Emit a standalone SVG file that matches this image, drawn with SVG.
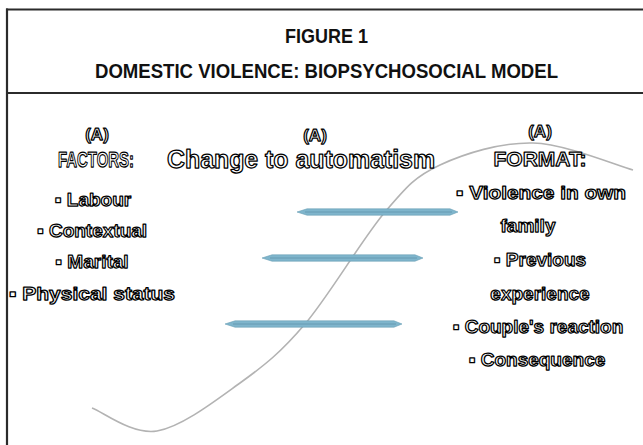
<svg xmlns="http://www.w3.org/2000/svg" width="643" height="445" viewBox="0 0 643 445">
<style>
.frame{stroke:#2b2b2b;stroke-width:2.2;fill:none}
.head{font-family:"Liberation Sans Narrow","Liberation Sans",Arial,sans-serif;font-weight:bold;fill:#111;text-anchor:middle}
.ol{font-family:"Liberation Sans",Arial,sans-serif;font-weight:bold;fill:#fff;stroke:#000;stroke-width:1.25;stroke-linejoin:round;text-anchor:middle}
.bar{fill:#7fb5cc;stroke:#6a9fb6;stroke-width:0.6}
.barline{stroke:#4f8199;stroke-width:0.8;opacity:0.6}
.curve{fill:none;stroke:#b3b3b3;stroke-width:1.6}
</style>
<rect width="643" height="445" fill="#fff"/>
<g id="frame">
<line class="frame" x1="6" y1="9.5" x2="643" y2="9.5"/>
<line class="frame" x1="7" y1="8.5" x2="7" y2="445"/>
<line class="frame" x1="6" y1="93" x2="643" y2="93"/>
</g>
<g id="title">
<text class="head" x="326.5" y="43" font-size="20" textLength="83" lengthAdjust="spacingAndGlyphs">FIGURE 1</text>
<text class="head" x="326.5" y="78" font-size="21" textLength="463" lengthAdjust="spacingAndGlyphs">DOMESTIC VIOLENCE: BIOPSYCHOSOCIAL MODEL</text>
</g>
<g id="connectors">
<path class="curve" d="M92,408 C102.8,411.8 132.3,435.2 157,431 C181.7,426.8 215.3,400.8 240,383 C264.7,365.2 280.8,352.5 305,324 C329.2,295.5 362.5,238.5 385,212 C407.5,185.5 415.3,176.5 440,165 C464.7,153.5 500.8,142.2 533,143 C565.2,143.8 616.3,165.5 633,170"/>
</g>
<g id="bars">
<path class="bar" d="M297,212 L307,208.8 L450,208.8 L458,212 L450,215.2 L307,215.2 Z"/>
<line class="barline" x1="305" y1="212" x2="452" y2="212"/>
<path class="bar" d="M262,258 L272,254.8 L415,254.8 L423,258 L415,261.2 L272,261.2 Z"/>
<line class="barline" x1="270" y1="258" x2="417" y2="258"/>
<path class="bar" d="M225,324 L235,320.8 L394,320.8 L402,324 L394,327.2 L235,327.2 Z"/>
<line class="barline" x1="233" y1="324" x2="396" y2="324"/>
</g>
<g id="factors">
<text class="ol" x="97" y="140" font-size="17">(A)</text>
<text class="ol" x="96" y="167" font-size="22" textLength="76" lengthAdjust="spacingAndGlyphs">FACTORS:</text>
<text class="ol" x="93" y="206" font-size="19">▪ Labour</text>
<text class="ol" x="92" y="237" font-size="19">▪ Contextual</text>
<text class="ol" x="92" y="268" font-size="19">▪ Marital</text>
<text class="ol" x="92" y="300" font-size="19" textLength="166" lengthAdjust="spacingAndGlyphs">▪ Physical status</text>
</g>
<g id="change">
<text class="ol" x="315" y="141" font-size="17">(A)</text>
<text class="ol" x="301" y="168" font-size="25" textLength="268" lengthAdjust="spacingAndGlyphs">Change to automatism</text>
</g>
<g id="format">
<text class="ol" x="540" y="137" font-size="17">(A)</text>
<text class="ol" x="540" y="166" font-size="21">FORMAT:</text>
<text class="ol" x="541" y="199" font-size="19" textLength="170" lengthAdjust="spacingAndGlyphs">▪ Violence in own</text>
<text class="ol" x="528" y="232" font-size="19">family</text>
<text class="ol" x="540" y="266" font-size="19">▪ Previous</text>
<text class="ol" x="540" y="300" font-size="19">experience</text>
<text class="ol" x="538" y="333" font-size="19">▪ Couple's reaction</text>
<text class="ol" x="537" y="366" font-size="19">▪ Consequence</text>
</g>
</svg>
